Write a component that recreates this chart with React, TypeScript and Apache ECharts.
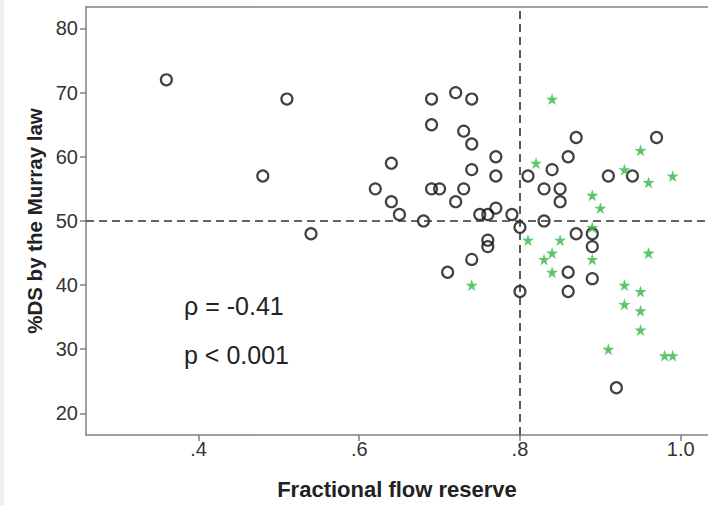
import React, { useEffect, useRef } from "react";
import * as echarts from "echarts";

// Axis ticks
const ffrTicks = [0.4, 0.6, 0.8, 1.0];
const ffrTickLabels = [".4", ".6", ".8", "1.0"];
const dsTicks = [20, 30, 40, 50, 60, 70, 80];

// Open circles
const circleFfr = [
  0.36, 0.51, 0.48, 0.54,
  0.69, 0.72, 0.74, 0.69, 0.73, 0.74, 0.77, 0.64, 0.74, 0.77, 0.81,
  0.62, 0.69, 0.70, 0.73, 0.64, 0.72,
  0.65, 0.68, 0.75, 0.76, 0.77, 0.79, 0.80, 0.76, 0.76, 0.74, 0.71, 0.80,
  0.87, 0.97, 0.86, 0.84, 0.91, 0.94, 0.83, 0.85, 0.85,
  0.83, 0.87, 0.89, 0.89, 0.86, 0.89, 0.86, 0.92,
];
const circleDs = [
  72, 69, 57, 48,
  69, 70, 69, 65, 64, 62, 60, 59, 58, 57, 57,
  55, 55, 55, 55, 53, 53,
  51, 50, 51, 51, 52, 51, 49, 47, 46, 44, 42, 39,
  63, 63, 60, 58, 57, 57, 55, 55, 53,
  50, 48, 48, 46, 42, 41, 39, 24,
];

// Green asterisks
const starFfr = [
  0.84, 0.95, 0.82, 0.93, 0.99, 0.96, 0.89, 0.90, 0.89, 0.81, 0.85, 0.84,
  0.83, 0.89, 0.96, 0.84, 0.74, 0.93, 0.95, 0.93, 0.95, 0.95, 0.91, 0.98, 0.99,
];
const starDs = [
  69, 61, 59, 58, 57, 56, 54, 52, 49, 47, 47, 45,
  44, 44, 45, 42, 40, 40, 39, 37, 36, 33, 30, 29, 29,
];

// Reference cut-offs
const ffrCutoff = 0.8;
const dsCutoff = 50;

const rhoText = "\u03c1 = -0.41";
const pText = "p < 0.001";

const FONT = "'Liberation Sans', Arial, sans-serif";

// Five-armed asterisk outline used as the symbol for the green markers
function asteriskPath(): string {
  const pts: string[] = [];
  const outer = 10;
  const inner = 3.8;
  for (let i = 0; i < 10; i++) {
    const r = i % 2 === 0 ? outer : inner;
    const a = -Math.PI / 2 + (i * Math.PI) / 5;
    pts.push(`${(r * Math.cos(a)).toFixed(3)} ${(r * Math.sin(a)).toFixed(3)}`);
  }
  return "path://M" + pts.join(" L") + " Z";
}

export default function App() {
  const ref = useRef<HTMLDivElement>(null);

  useEffect(() => {
    if (!ref.current) return;
    const chart = echarts.init(ref.current, null, { renderer: "svg" });

    const circles = circleFfr.map((x, i) => [x, circleDs[i]]);
    const stars = starFfr.map((x, i) => [x, starDs[i]]);

    const axisLineStyle = { color: "#808080", width: 1.5 };

    chart.setOption({
      animation: false,
      backgroundColor: "#ffffff",
      grid: { left: 86, top: 7, right: 0, bottom: 69, containLabel: false },
      xAxis: [
        {
          type: "value",
          min: 0.26,
          max: 1.034,
          name: "Fractional flow reserve",
          nameLocation: "middle",
          nameGap: 43,
          nameTextStyle: { fontFamily: FONT, fontSize: 22, fontWeight: "bold", color: "#222" },
          axisLine: { show: true, lineStyle: axisLineStyle },
          axisTick: {
            show: true,
            length: 6,
            customValues: ffrTicks,
            lineStyle: { color: "#808080", width: 1.5 },
          },
          axisLabel: {
            customValues: ffrTicks,
            margin: 4,
            fontFamily: FONT,
            fontSize: 20,
            color: "#333",
            formatter: (v: number) => {
              const idx = ffrTicks.findIndex((t) => Math.abs(t - v) < 1e-6);
              return idx >= 0 ? ffrTickLabels[idx] : "";
            },
          },
          splitLine: { show: false },
        },
        {
          type: "value",
          position: "top",
          min: 0.26,
          max: 1.034,
          axisLine: { show: true, lineStyle: axisLineStyle },
          axisTick: { show: false },
          axisLabel: { show: false },
          splitLine: { show: false },
        },
      ],
      yAxis: {
        type: "value",
        min: 16.63,
        max: 83.35,
        name: "%DS by the Murray law",
        nameLocation: "middle",
        nameGap: 40,
        nameTextStyle: { fontFamily: FONT, fontSize: 20.5, fontWeight: "bold", color: "#222" },
        axisLine: { show: true, lineStyle: axisLineStyle },
        axisTick: {
          show: true,
          length: 6,
          customValues: dsTicks,
          lineStyle: { color: "#808080", width: 1.5 },
        },
        axisLabel: {
          customValues: dsTicks,
          margin: 8,
          fontFamily: FONT,
          fontSize: 20,
          color: "#333",
        },
        splitLine: { show: false },
      },
      graphic: [
        { type: "rect", shape: { x: 0, y: 0, width: 4, height: 505 }, style: { fill: "#eef0f3" }, z: 0 },
        {
          type: "text",
          x: 184,
          y: 306,
          style: { text: rhoText, fontFamily: FONT, fontSize: 25, fill: "#222", textVerticalAlign: "middle" },
        },
        {
          type: "text",
          x: 184,
          y: 355,
          style: { text: pText, fontFamily: FONT, fontSize: 25, fill: "#222", textVerticalAlign: "middle" },
        },
      ],
      series: [
        {
          type: "scatter",
          data: [],
          silent: true,
          markLine: {
            silent: true,
            symbol: "none",
            label: { show: false },
            lineStyle: { type: [8, 5], color: "#333", width: 1.6 },
            data: [{ yAxis: dsCutoff }, { xAxis: ffrCutoff }],
          },
        },
        {
          type: "scatter",
          data: circles,
          symbol: "circle",
          symbolSize: 11,
          itemStyle: { color: "rgba(0,0,0,0)", borderColor: "#111", borderWidth: 2.2 },
        },
        {
          type: "scatter",
          data: stars,
          symbol: asteriskPath(),
          symbolSize: 12,
          itemStyle: { color: "#34b847" },
        },
      ],
    });

    return () => chart.dispose();
  }, []);

  return (
    <div
      ref={ref}
      style={{ position: "fixed", left: 0, top: 0, width: 708, height: 505, background: "#fff" }}
    />
  );
}
